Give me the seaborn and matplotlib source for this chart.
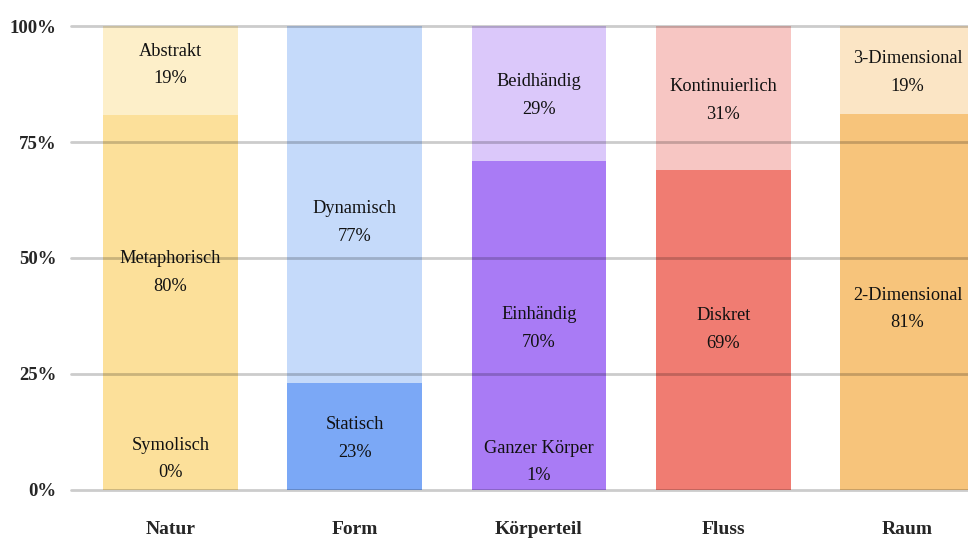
import matplotlib
matplotlib.use("Agg")
import matplotlib.pyplot as plt
import seaborn as sns
import pandas as pd

# ---- data (bottom segment first) ----
categories = ["Natur", "Form", "Körperteil", "Fluss", "Raum"]
natur_names = ["Symolisch", "Metaphorisch", "Abstrakt"]
natur_values = [0, 80, 19]
form_names = ["Statisch", "Dynamisch"]
form_values = [23, 77]
koerper_names = ["Ganzer Körper", "Einhändig", "Beidhändig"]
koerper_values = [1, 70, 29]
fluss_names = ["Diskret", "Kontinuierlich"]
fluss_values = [69, 31]
raum_names = ["2-Dimensional", "3-Dimensional"]
raum_values = [81, 19]
y_ticks = [0, 25, 50, 75, 100]
y_tick_labels = ["0%", "25%", "50%", "75%", "100%"]

# ---- styles / layout ----
colors = {
    "Natur": ["#FCE09A", "#FCE09A", "#FDEFC9"],
    "Form": ["#7BA8F6", "#C5DAFA"],
    "Körperteil": ["#A97BF5", "#A97BF5", "#DBC8FA"],
    "Fluss": ["#F07C72", "#F7C6C3"],
    "Raum": ["#F7C47B", "#FBE5C5"],
}
# vertical nudges of label blocks in pixels (positive = up)
label_nudge_px = {"Abstrakt": 6, "Metaphorisch": 30, "Dynamisch": -18,
                  "Einhändig": -6, "2-Dimensional": -7, "Ganzer Körper": -5,
                  "Diskret": 0}
default_nudge_px = -2

groups = {
    "Natur": (natur_names, natur_values),
    "Form": (form_names, form_values),
    "Körperteil": (koerper_names, koerper_values),
    "Fluss": (fluss_names, fluss_values),
    "Raum": (raum_names, raum_values),
}

rows = []
for cat in categories:
    names, vals = groups[cat]
    total = sum(vals)
    cum = 0.0
    n = len(vals)
    for k, (nm, v) in enumerate(zip(names, vals)):
        h = v / total * 100
        rows.append(dict(category=cat, name=nm, pct=v, bottom=cum, top=cum + h,
                         rank_from_top=n - 1 - k, color=colors[cat][k]))
        cum += h
df = pd.DataFrame(rows)

sns.set_theme(style="white")
plt.rcParams["font.family"] = ["Liberation Serif", "DejaVu Serif"]

fig = plt.figure(figsize=(9.68, 5.38), dpi=100)
ax = fig.add_axes([71 / 968, 48.5 / 538, 1 - 71 / 968, (489.5 - 26.5) / 538])

max_rank = df["rank_from_top"].max()
for r in range(max_rank + 1):
    sub = df[df["rank_from_top"] == r]
    pal = {row.category: row.color for row in sub.itertuples()}
    present = [c for c in categories if c in pal]
    sns.barplot(data=sub, x="category", y="top", hue="category", order=categories,
                hue_order=present, palette=pal, legend=False, width=0.73,
                saturation=1, dodge=False, linewidth=0, ax=ax, zorder=1 + r)

# labels
pt_per_px = 72 / 100
for row in df.itertuples():
    i = categories.index(row.category)
    h = row.top - row.bottom
    yc = (row.bottom + row.top) / 2 if h >= 10 else row.bottom + 7
    dy = label_nudge_px.get(row.name, default_nudge_px) * pt_per_px
    ax.annotate(row.name, (i, yc), xytext=(0, 10 + dy), textcoords="offset points",
                ha="center", va="center", fontsize=13.2, color="#111111", zorder=10)
    ax.annotate(f"{row.pct}%", (i, yc), xytext=(0, -10 + dy), textcoords="offset points",
                ha="center", va="center", fontsize=13.2, color="#111111", zorder=10)

# gridlines on top
for t in y_ticks:
    ax.axhline(t, color="black", alpha=0.2, linewidth=2, zorder=8, clip_on=False)

ax.set_xlim(-0.539, 4.328)
ax.set_ylim(0, 100)
ax.set_yticks(y_ticks)
ax.set_yticklabels(y_tick_labels, fontweight="bold", fontsize=13.5)
ax.tick_params(axis="y", length=0, pad=10.5)
ax.tick_params(axis="x", length=0, pad=23)
for lbl in ax.get_xticklabels():
    lbl.set_fontweight("bold")
    lbl.set_fontsize(14)
ax.set_xlabel("")
ax.set_ylabel("")
for s in ax.spines.values():
    s.set_visible(False)

fig.savefig("out.png", dpi=100)
